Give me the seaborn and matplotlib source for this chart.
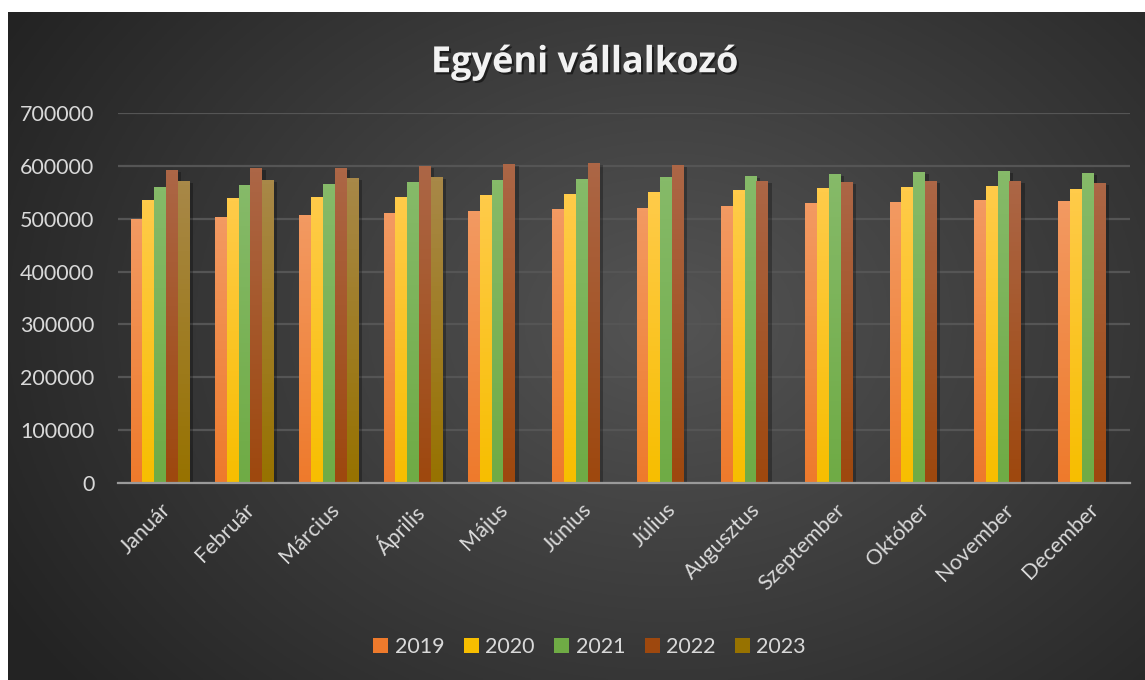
import numpy as np
import pandas as pd
import seaborn as sns
from matplotlib import pyplot as plt
from matplotlib import patheffects as pe
from matplotlib.patches import Patch
from matplotlib.colors import to_rgb

### Data ###
months = ['Január', 'Február', 'Március', 'Április', 'Május', 'Június',
          'Július', 'Augusztus', 'Szeptember', 'Október', 'November', 'December']
years = ['2019', '2020', '2021', '2022', '2023']

v2019 = [500000, 503800, 507600, 511400, 515200, 518900, 520800, 524600, 530300, 532200, 536000, 534100]
v2020 = [536000, 539800, 541700, 541700, 545500, 547300, 551100, 554900, 558700, 560600, 562500, 556800]
v2021 = [560600, 564400, 566300, 570100, 573900, 575800, 579500, 581400, 585200, 589000, 590900, 587100]
v2022 = [592800, 596600, 596600, 600400, 604200, 606100, 602300, 572000, 570100, 572000, 572000, 568200]
v2023 = [572000, 573900, 577700, 579500, np.nan, np.nan, np.nan, np.nan, np.nan, np.nan, np.nan, np.nan]

base_colors = ['#EE7A2C', '#F7BE00', '#6FAB45', '#9E480E', '#977200']
top_colors = ['#F39A62', '#FFCB4A', '#86BA69', '#AC6646', '#A88848']

rows = []
for y, vals in zip(years, [v2019, v2020, v2021, v2022, v2023]):
    for m, v in zip(months, vals):
        rows.append({'month': m, 'year': y, 'value': v})
df = pd.DataFrame(rows)

### Figure + background ###
sns.set_theme(style='white')
plt.rcParams['font.family'] = ['Lato', 'DejaVu Sans']
fig = plt.figure(figsize=(11.45, 6.8), dpi=100)
fig.patch.set_facecolor('white')

bg = fig.add_axes([8 / 1145, 0, 1137 / 1145, 668 / 680], zorder=-10)
gx, gy = np.meshgrid(np.linspace(0, 1137, 400), np.linspace(0, 668, 300))
r = np.sqrt(((gx - 660) / 760) ** 2 + ((gy - 310) / 580) ** 2)
r = np.clip(r, 0, 1)
dark, light = np.array([0.14, 0.14, 0.14]), np.array([0.33, 0.33, 0.33])
img = light[None, None, :] * (1 - r[..., None]) + dark[None, None, :] * r[..., None]
bg.imshow(img, aspect='auto', extent=[0, 1, 0, 1], origin='upper')
bg.set_axis_off()

ax = fig.add_axes([118 / 1145, 197 / 680, 1012 / 1145, 370 / 680])
ax.patch.set_alpha(0)

sns.barplot(data=df, x='month', y='value', hue='year', order=months, hue_order=years,
            palette=base_colors, width=0.7, gap=0, saturation=1, legend=False, ax=ax,
            errorbar=None, linewidth=0)

### gradient fill + shadow on each bar ###
for bar in list(ax.patches):
    h = bar.get_height()
    if not np.isfinite(h) or h <= 0:
        continue
    fc = np.array(to_rgb(bar.get_facecolor()))
    idx = int(np.argmin([np.sum((np.array(to_rgb(c)) - fc) ** 2) for c in base_colors]))
    c_top = np.array(to_rgb(top_colors[idx]))
    c_bot = np.array(to_rgb(base_colors[idx]))
    t = np.linspace(0, 1, 64)[:, None]
    grad = (c_top[None, :] * (1 - t) + c_bot[None, :] * t)[:, None, :]
    x0 = bar.get_x()
    im = ax.imshow(grad, aspect='auto', extent=[x0, x0 + bar.get_width(), 0, h],
                   origin='upper', zorder=bar.get_zorder() + 0.1)
    im.set_clip_path(bar)
    bar.set_path_effects([pe.SimplePatchShadow(offset=(2.5, -1.5), shadow_rgbFace='black', alpha=0.28),
                          pe.Normal()])

ax.set_xlim(-0.5, len(months) - 0.5)
ax.set_ylim(0, 700000)
ax.set_yticks(range(0, 700001, 100000))
ax.yaxis.grid(True, color='#555555', linewidth=1.6)
ax.set_axisbelow(True)
for s in ['top', 'right', 'left']:
    ax.spines[s].set_visible(False)
ax.spines['bottom'].set_color('#9a9a9a')
ax.spines['bottom'].set_linewidth(1.6)
ax.set_xlabel('')
ax.set_ylabel('')
ax.tick_params(axis='both', length=0, colors='#d9d9d9', labelsize=15.5)
ax.tick_params(axis='y', pad=17)
ax.tick_params(axis='x', pad=12)
plt.setp(ax.get_xticklabels(), rotation=45, ha='right', rotation_mode='anchor')

fig.text(0.511, 0.907, 'Egyéni vállalkozó', ha='center', va='center', fontsize=26,
         fontweight='bold', color='#f2f2f2', family=['Open Sans', 'DejaVu Sans'],
         path_effects=[pe.withSimplePatchShadow(offset=(1.5, -1.5), shadow_rgbFace='black', alpha=0.5)])

handles = [Patch(facecolor=c, edgecolor='none') for c in base_colors]
fig.legend(handles, years, loc='center', bbox_to_anchor=(0.515, 0.049), ncol=5, frameon=False,
           fontsize=15.5, labelcolor='#d9d9d9', handlelength=0.7, handleheight=0.7,
           handletextpad=0.3, columnspacing=0.9)

plt.savefig('out.png', dpi=100)
